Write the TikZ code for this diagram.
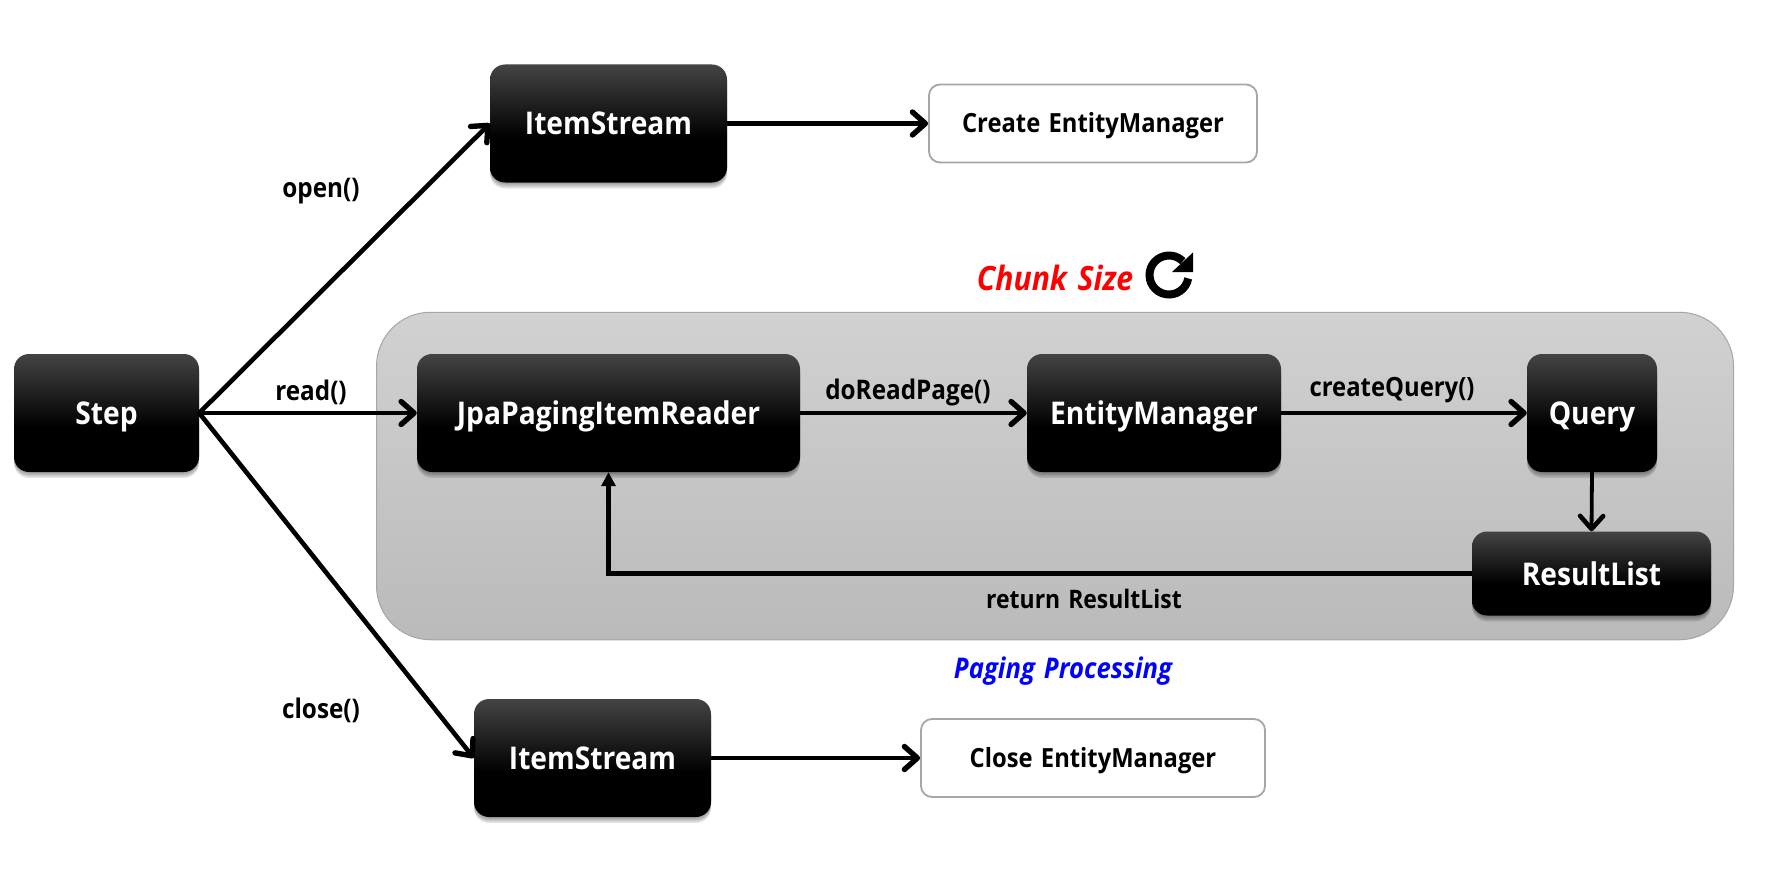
\documentclass[tikz,border=0pt]{standalone}
\usepackage{fontspec}
\setmainfont[WordSpace=1.35,FakeStretch=0.9]{Open Sans}
\usetikzlibrary{arrows.meta,shadows}
\pgfdeclareverticalshading{boxgrad}{100bp}{color(0bp)=(black);color(44bp)=(black);color(75bp)=(rgb,255:red,68;green,68;blue,68);color(100bp)=(rgb,255:red,68;green,68;blue,68)}
\pgfdeclareverticalshading{panelgrad}{100bp}{color(0bp)=(rgb,255:red,186;green,186;blue,186);color(25bp)=(rgb,255:red,186;green,186;blue,186);color(75bp)=(rgb,255:red,209;green,209;blue,209);color(100bp)=(rgb,255:red,209;green,209;blue,209)}
\definecolor{edgegray}{RGB}{166,166,166}
\tikzset{
  softshadow/.style={general shadow={fill=black,opacity=.10,shadow xshift=0pt,shadow yshift=-#1}},
  darkbox/.style={rectangle,rounded corners=15pt,shading=boxgrad,draw=none,text=white,inner sep=0pt,
    text height=23pt,text depth=0pt,
    font=\fontsize{31.3}{34}\selectfont\bfseries,
    softshadow=1.5pt,softshadow=3pt,softshadow=4.5pt,softshadow=6pt},
  lightbox/.style={rectangle,rounded corners=11pt,draw=edgegray,line width=1.8pt,fill=white,inner sep=0pt,
    text height=19pt,text depth=0pt,
    font=\fontsize{26.4}{30}\selectfont\bfseries},
  panelbox/.style={rectangle,rounded corners=54pt,shading=panelgrad,draw=edgegray,line width=1pt,inner sep=0pt},
  lab/.style={font=\fontsize{27}{30}\selectfont\bfseries,inner sep=0pt},
  flow/.style={line width=4.6pt,-{Straight Barb[length=13pt,width=23pt,line width=5.4pt,round]}},
  flowthin/.style={line width=3.8pt,-{Straight Barb[length=13pt,width=23pt,line width=4.6pt,round]}},
  flowback/.style={line width=4.6pt,-{Triangle[length=14pt,width=14pt]}},
}
\begin{document}
\begin{tikzpicture}[x=1pt,y=-1pt]
\useasboundingbox (0,0) rectangle (1778,888);
\node[panelbox,minimum width=1357pt,minimum height=327.5pt] (panel) at (1055,476) {};
\node[darkbox,minimum width=185pt,minimum height=118pt] (step) at (106.5,413) {Step};
\node[darkbox,minimum width=237pt,minimum height=118pt] (is1) at (608.5,123.5) {ItemStream};
\node[lightbox,minimum width=328pt,minimum height=78pt] (create) at (1093,123.5) {Create EntityManager};
\node[darkbox,minimum width=383pt,minimum height=118pt] (jpa) at (608.5,413) {JpaPagingItemReader};
\node[darkbox,minimum width=254pt,minimum height=118pt] (em) at (1154,413) {EntityManager};
\node[darkbox,minimum width=130pt,minimum height=118pt] (query) at (1592,413) {Query};
\node[darkbox,minimum width=239pt,minimum height=84pt] (rl) at (1591.5,573.5) {ResultList};
\node[darkbox,minimum width=237pt,minimum height=118pt] (is2) at (592.5,758) {ItemStream};
\node[lightbox,minimum width=344pt,minimum height=78pt] (closeb) at (1093,758) {Close EntityManager};
\draw[flow] (step.east) -- (is1.west);
\draw[flow] (step.east) -- (jpa.west);
\draw[flow] (step.east) -- (is2.west);
\draw[flow] (is1.east) -- (create.west);
\draw[flow] (is2.east) -- (closeb.west);
\draw[flow] (jpa.east) -- (em.west);
\draw[flow] (em.east) -- (query.west);
\draw[flowthin] (query.south) -- (rl.north);
\draw[flowback] (rl.west) -| (jpa.south);
\node[lab] (lopen) at (321,191) {open()};
\node[lab] (lread) at (311,392) {read()};
\node[lab] (lclose) at (321,710) {close()};
\node[lab] (ldo) at (908,392) {doReadPage()};
\node[lab,font=\fontsize{26.5}{30}\selectfont\bfseries] (lcq) at (1392,390) {createQuery()};
\node[lab,font=\fontsize{25.5}{30}\selectfont\bfseries] (lret) at (1084,599) {return ResultList};
\node[font=\fontsize{33.5}{36}\selectfont\bfseries\itshape,text=red,inner sep=0pt] (chunk) at (1055,278) {Chunk Size};
\node[font=\fontsize{28.5}{32}\selectfont\bfseries\itshape,text=blue,inner sep=0pt] (paging) at (1063,671) {Paging Processing};
\draw[line width=8pt] (1188.2,278.4) arc[start angle=-10,end angle=-315,radius=19.5pt];
\fill (1193,252.5) -- (1193,272) -- (1172,272) -- cycle;
\end{tikzpicture}
\end{document}
